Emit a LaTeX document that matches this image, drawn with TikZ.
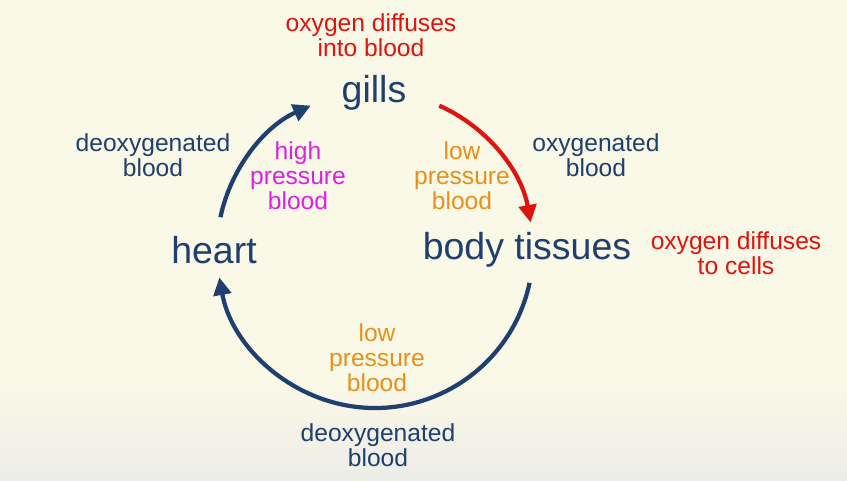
\documentclass[tikz,border=0pt]{standalone}
\usepackage{fontspec}
\setmainfont{Liberation Sans}
\usetikzlibrary{arrows.meta}
\definecolor{bg}{HTML}{FAF8E6}
\definecolor{bgb}{HTML}{EDEDE8}
\definecolor{navy}{HTML}{1F3F6E}
\definecolor{redc}{HTML}{E0140E}
\definecolor{mag}{HTML}{E020E0}
\definecolor{orng}{HTML}{E8901A}
\tikzset{
 big/.style={font=\fontsize{32}{35}\selectfont, text=navy, inner sep=0},
 lab/.style={font=\fontsize{21}{21.3}\selectfont, align=center, inner sep=0},
 flow/.style={line width=3.6pt, -{Triangle[length=15pt,width=15pt]}},
}
\begin{document}
\begin{tikzpicture}[x=0.03cm,y=-0.03cm]
\fill[bg] (0,0) rectangle (847,481);
\shade[top color=bg,bottom color=bgb] (0,380) rectangle (847,481);
\useasboundingbox (0,0) rectangle (847,481);
\node[lab,text=redc] (o1) at (371,35) {oxygen diffuses\\into blood};
\node[big] (gills) at (374,93) {gills};
\node[lab,text=navy] (d1) at (153,155) {deoxygenated\\blood};
\node[lab,text=mag] (hp) at (298,176) {high\\pressure\\blood};
\node[lab,text=orng] (lp1) at (462,176) {low\\pressure\\blood};
\node[lab,text=navy] (ox) at (596,155) {oxygenated\\blood};
\node[big] (heart) at (214,250) {heart};
\node[big] (body) at (527,250) {body tissues};
\node[lab,text=redc] (o2) at (736,253) {oxygen diffuses\\to cells};
\node[lab,text=orng] (lp2) at (377,358) {low\\pressure\\blood};
\node[lab,text=navy] (d2) at (378,445) {deoxygenated\\blood};
\coordinate (c) at (375,250);
\draw[flow,navy] ([shift={(-168:158)}]c) arc[start angle=-168,end angle=-114,radius=158];
\draw[flow,redc] ([shift={(-66:158)}]c) arc[start angle=-66,end angle=-10,radius=158];
\draw[flow,navy] ([shift={(12:158)}]c) arc[start angle=12,end angle=170,radius=158];
\end{tikzpicture}
\end{document}
